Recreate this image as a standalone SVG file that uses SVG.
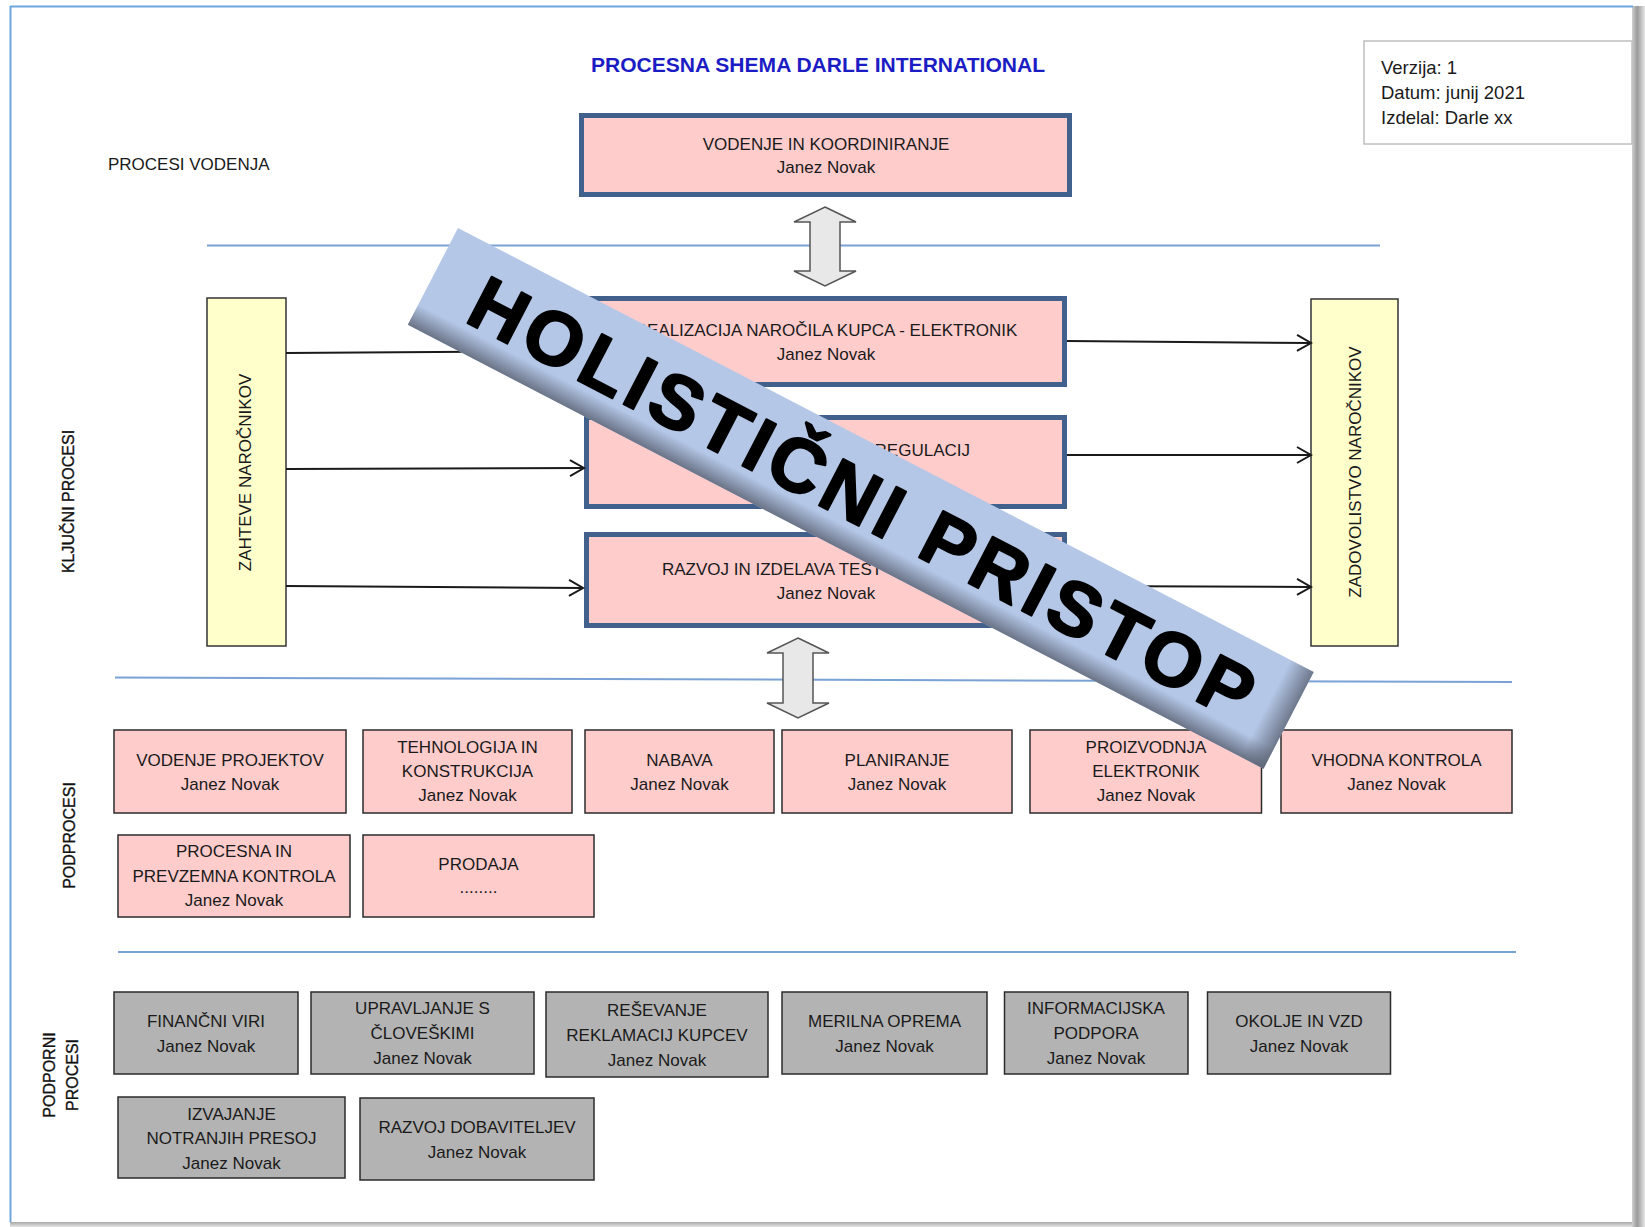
<svg xmlns="http://www.w3.org/2000/svg" width="1645" height="1227" viewBox="0 0 1645 1227">
<style>
.t{font-family:"Liberation Sans",Arial,sans-serif;font-size:17px;fill:#1a1a1a;text-anchor:middle}
.info{font-family:"Liberation Sans",Arial,sans-serif;font-size:18.5px;fill:#1a1a1a}
.lbl{font-family:"Liberation Sans",Arial,sans-serif;font-size:16px;fill:#111;stroke:#111;stroke-width:0.35;text-anchor:middle}
.pink{fill:#ffcccc;stroke:#2b2b2b;stroke-width:1.5}
.gray{fill:#b3b3b3;stroke:#2b2b2b;stroke-width:1.5}
.key{fill:#ffcccc;stroke:#41618c;stroke-width:5}
.yel{fill:#ffffcc;stroke:#333;stroke-width:1.5}
.sep{stroke:#7aa2d5;stroke-width:2;fill:none}
.conn{stroke:#1a1a1a;stroke-width:2;fill:none;marker-end:url(#ah)}
.dbl{fill:#e8e8e8;stroke:#555;stroke-width:1.5}
</style>
<defs>
<marker id="ah" viewBox="-16 -10 18 20" refX="0" refY="0" markerWidth="18" markerHeight="20" markerUnits="userSpaceOnUse" orient="auto">
<path d="M-14,-8 L0,0 L-14,8" fill="none" stroke="#1a1a1a" stroke-width="2"/>
</marker>
<linearGradient id="shR" x1="0" y1="0" x2="1" y2="0">
<stop offset="0" stop-color="#cfcfcf"/><stop offset="0.4" stop-color="#9a9a9a"/><stop offset="1" stop-color="#e6e6e6"/>
</linearGradient>
<linearGradient id="shB" x1="0" y1="0" x2="0" y2="1">
<stop offset="0" stop-color="#a8a8a8"/><stop offset="1" stop-color="#e6e6e6"/>
</linearGradient>
<linearGradient id="bnB" gradientUnits="userSpaceOnUse" x1="0" y1="86" x2="0" y2="109">
<stop offset="0" stop-color="#5d6475" stop-opacity="0"/><stop offset="1" stop-color="#5d6475" stop-opacity="0.85"/>
</linearGradient>
<linearGradient id="bnR" gradientUnits="userSpaceOnUse" x1="938" y1="0" x2="964" y2="0">
<stop offset="0" stop-color="#5d6475" stop-opacity="0"/><stop offset="1" stop-color="#5d6475" stop-opacity="0.8"/>
</linearGradient>
</defs>

<rect x="0" y="0" width="1645" height="1227" fill="#ffffff"/>
<g id="page">
<rect x="1632" y="6" width="13" height="1221" fill="url(#shR)"/>
<rect x="10" y="1222" width="1622" height="5" fill="url(#shB)"/>
<line x1="10" y1="6.5" x2="1633" y2="6.5" stroke="#6fa6de" stroke-width="2"/>
<line x1="10.5" y1="6" x2="10.5" y2="1222" stroke="#6fa6de" stroke-width="2"/>
</g>

<g id="title">
<text x="591" y="72" font-family="Liberation Sans, Arial, sans-serif" font-size="21" font-weight="bold" fill="#1c1cc4" textLength="454" lengthAdjust="spacingAndGlyphs">PROCESNA SHEMA DARLE INTERNATIONAL</text>
</g>

<g id="info">
<rect x="1364" y="41" width="268" height="103" fill="#ffffff" stroke="#bfbfbf" stroke-width="1.5"/>
<text class="info" x="1381" y="74">Verzija: 1</text>
<text class="info" x="1381" y="99">Datum: junij 2021</text>
<text class="info" x="1381" y="124">Izdelal: Darle xx</text>
</g>

<g id="section-labels">
<text class="t" style="text-anchor:start" x="108" y="170">PROCESI VODENJA</text>
<text class="lbl" transform="translate(74,501.5) rotate(-90)" x="0" y="0">KLJUČNI PROCESI</text>
<text class="lbl" transform="translate(75,835.5) rotate(-90)" x="0" y="0">PODPROCESI</text>
<text class="lbl" transform="translate(54.5,1075) rotate(-90)" x="0" y="0">PODPORNI</text>
<text class="lbl" transform="translate(77.5,1075) rotate(-90)" x="0" y="0">PROCESI</text>
</g>

<g id="separators">
<line class="sep" x1="207" y1="245.5" x2="1380" y2="245.5"/>
<line class="sep" x1="115" y1="677.5" x2="1512" y2="682"/>
<line class="sep" x1="118" y1="952" x2="1516" y2="952"/>
</g>

<g id="node-vodenje">
<rect class="key" x="581.5" y="115.5" width="488" height="79"/>
<text class="t" x="826" y="150">VODENJE IN KOORDINIRANJE</text>
<text class="t" x="826" y="173">Janez Novak</text>
</g>

<g id="node-zahteve">
<rect class="yel" x="207" y="298" width="79" height="348"/>
<text class="t" transform="translate(251,472.5) rotate(-90)" x="0" y="0">ZAHTEVE NAROČNIKOV</text>
</g>

<g id="node-zadovoljstvo">
<rect class="yel" x="1311" y="299" width="87" height="347"/>
<text class="t" transform="translate(1361,472) rotate(-90)" x="0" y="0">ZADOVOLISTVO NAROČNIKOV</text>
</g>

<g id="node-realizacija">
<rect class="key" x="586.5" y="298.5" width="478" height="86"/>
<text class="t" x="826" y="336">REALIZACIJA NAROČILA KUPCA - ELEKTRONIK</text>
<text class="t" x="826" y="360">Janez Novak</text>
</g>

<g id="node-regulacij">
<rect class="key" x="586.5" y="417.5" width="478" height="89"/>
<text class="t" style="text-anchor:end" x="970" y="456">REGULACIJ</text>
</g>

<g id="node-razvoj">
<rect class="key" x="586.5" y="534.5" width="478" height="91"/>
<text class="t" style="text-anchor:start" x="662" y="575">RAZVOJ IN IZDELAVA TEST</text>
<text class="t" x="826" y="599">Janez Novak</text>
</g>

<g id="connectors">
<path class="dbl" d="M825,207 L856,222 L840,222 L840,271 L856,271 L825,286 L794,271 L810,271 L810,222 L794,222 Z"/>
<path class="dbl" d="M798,638 L829,653 L813,653 L813,703 L829,703 L798,718 L767,703 L783,703 L783,653 L767,653 Z"/>
<line class="conn" x1="286" y1="353" x2="584" y2="351"/>
<line class="conn" x1="286" y1="469" x2="584" y2="468"/>
<line class="conn" x1="286" y1="586" x2="583" y2="588"/>
<line class="conn" x1="1067" y1="341" x2="1311" y2="343"/>
<line class="conn" x1="1067" y1="455" x2="1311" y2="455"/>
<line class="conn" x1="1067" y1="586" x2="1311" y2="587"/>
</g>

<g id="node-vodenje-projektov">
<rect class="pink" x="114" y="730" width="232" height="83"/>
<text class="t" x="230" y="766">VODENJE PROJEKTOV</text>
<text class="t" x="230" y="790">Janez Novak</text>
</g>
<g id="node-tehnologija">
<rect class="pink" x="363" y="730" width="209" height="83"/>
<text class="t" x="467.5" y="753">TEHNOLOGIJA IN</text>
<text class="t" x="467.5" y="777">KONSTRUKCIJA</text>
<text class="t" x="467.5" y="801">Janez Novak</text>
</g>
<g id="node-nabava">
<rect class="pink" x="585" y="730" width="189" height="83"/>
<text class="t" x="679.5" y="766">NABAVA</text>
<text class="t" x="679.5" y="790">Janez Novak</text>
</g>
<g id="node-planiranje">
<rect class="pink" x="782" y="730" width="230" height="83"/>
<text class="t" x="897" y="766">PLANIRANJE</text>
<text class="t" x="897" y="790">Janez Novak</text>
</g>
<g id="node-proizvodnja">
<rect class="pink" x="1030" y="730" width="231.5" height="83"/>
<text class="t" x="1146" y="753">PROIZVODNJA</text>
<text class="t" x="1146" y="777">ELEKTRONIK</text>
<text class="t" x="1146" y="801">Janez Novak</text>
</g>
<g id="node-vhodna">
<rect class="pink" x="1281" y="730" width="231" height="83"/>
<text class="t" x="1396.5" y="766">VHODNA KONTROLA</text>
<text class="t" x="1396.5" y="790">Janez Novak</text>
</g>
<g id="node-procesna">
<rect class="pink" x="118" y="835" width="232" height="82"/>
<text class="t" x="234" y="857">PROCESNA IN</text>
<text class="t" x="234" y="882">PREVZEMNA KONTROLA</text>
<text class="t" x="234" y="906">Janez Novak</text>
</g>
<g id="node-prodaja">
<rect class="pink" x="363" y="835" width="231" height="82"/>
<text class="t" x="478.5" y="870">PRODAJA</text>
<text class="t" x="478.5" y="893">........</text>
</g>

<g id="node-financni">
<rect class="gray" x="114" y="992" width="184" height="82"/>
<text class="t" x="206" y="1027">FINANČNI VIRI</text>
<text class="t" x="206" y="1052">Janez Novak</text>
</g>
<g id="node-upravljanje">
<rect class="gray" x="311" y="992" width="223" height="82"/>
<text class="t" x="422.5" y="1014">UPRAVLJANJE S</text>
<text class="t" x="422.5" y="1039">ČLOVEŠKIMI</text>
<text class="t" x="422.5" y="1064">Janez Novak</text>
</g>
<g id="node-resevanje">
<rect class="gray" x="546" y="992" width="222" height="85"/>
<text class="t" x="657" y="1016">REŠEVANJE</text>
<text class="t" x="657" y="1041">REKLAMACIJ KUPCEV</text>
<text class="t" x="657" y="1066">Janez Novak</text>
</g>
<g id="node-merilna">
<rect class="gray" x="782" y="992" width="205" height="82"/>
<text class="t" x="884.5" y="1027">MERILNA OPREMA</text>
<text class="t" x="884.5" y="1052">Janez Novak</text>
</g>
<g id="node-informacijska">
<rect class="gray" x="1004.5" y="992" width="183.5" height="82"/>
<text class="t" x="1096" y="1014">INFORMACIJSKA</text>
<text class="t" x="1096" y="1039">PODPORA</text>
<text class="t" x="1096" y="1064">Janez Novak</text>
</g>
<g id="node-okolje">
<rect class="gray" x="1207.5" y="992" width="183" height="82"/>
<text class="t" x="1299" y="1027">OKOLJE IN VZD</text>
<text class="t" x="1299" y="1052">Janez Novak</text>
</g>
<g id="node-izvajanje">
<rect class="gray" x="118" y="1097" width="227" height="81"/>
<text class="t" x="231.5" y="1120">IZVAJANJE</text>
<text class="t" x="231.5" y="1144">NOTRANJIH PRESOJ</text>
<text class="t" x="231.5" y="1169">Janez Novak</text>
</g>
<g id="node-dobavitelji">
<rect class="gray" x="360" y="1098" width="234" height="82"/>
<text class="t" x="477" y="1133">RAZVOJ DOBAVITELJEV</text>
<text class="t" x="477" y="1158">Janez Novak</text>
</g>

<g id="banner" transform="translate(458,228) rotate(27.42)">
<rect x="0" y="0" width="964" height="109" fill="#b4c7e7"/>
<rect x="0" y="86" width="964" height="23" fill="url(#bnB)"/>
<rect x="938" y="0" width="26" height="109" fill="url(#bnR)"/>
<text x="47" y="80" font-family="Liberation Sans, Arial, sans-serif" font-size="76" font-weight="bold" fill="#000" stroke="#000" stroke-width="2" stroke-linejoin="round" textLength="872" lengthAdjust="spacing">HOLISTIČNI PRISTOP</text>
</g>
</svg>
